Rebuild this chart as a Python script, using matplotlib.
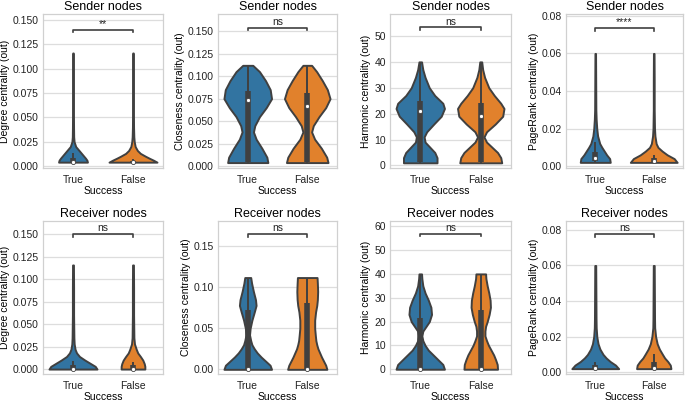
import numpy as np
import matplotlib
matplotlib.use("Agg")
import matplotlib.pyplot as plt
from matplotlib.ticker import FormatStrFormatter, MultipleLocator

plt.rcParams["font.family"] = ["Liberation Sans", "DejaVu Sans"]

categories = ["True", "False"]
colors = ["#3274a1", "#e1812c"]
edge = "#404040"

# ---- sender nodes ----
# violin profiles: value levels + relative density (width) at each level
deg_snd_levels = [0.004, 0.006, 0.008, 0.010, 0.013, 0.016, 0.020, 0.025, 0.030, 0.040, 0.060, 0.080, 0.100, 0.116]
deg_snd_true = [53, 51, 46, 40, 31, 22, 10, 4, 2.5, 2, 1.5, 1.5, 1.5, 1]
deg_snd_false = [88, 75, 60, 46, 27, 16, 8, 4.5, 3, 2, 1.5, 1.5, 1.5, 1]
# box stats: whisker low, q1, median, q3, whisker high
deg_snd_true_box = [0.004, 0.004, 0.004, 0.008, 0.013]
deg_snd_false_box = [0.004, 0.004, 0.004, 0.005, 0.007]

clo_snd_levels = [0.004, 0.010, 0.020, 0.030, 0.038, 0.045, 0.055, 0.065, 0.075, 0.085, 0.095, 0.105, 0.112]
clo_snd_true = [60, 57, 42, 25, 17, 21, 35, 55, 71, 67, 53, 35, 15]
clo_snd_false = [62, 58, 42, 22, 13, 18, 35, 55, 68, 60, 45, 28, 13]
clo_snd_true_box = [0.004, 0.005, 0.074, 0.083, 0.112]
clo_snd_false_box = [0.004, 0.005, 0.0667, 0.081, 0.112]

har_snd_levels = [1, 3, 5, 7, 9, 11, 13, 16, 19, 22, 24, 27, 30, 34, 37, 40]
har_snd_true = [52, 52, 45, 30, 15, 12, 20, 42, 65, 75, 70, 45, 28, 15, 8, 4]
har_snd_false = [65, 62, 52, 35, 18, 10, 18, 45, 68, 72, 62, 42, 25, 12, 6, 3]
har_snd_true_box = [1, 1.5, 21.1, 24.7, 40]
har_snd_false_box = [1, 1.5, 19.2, 24.0, 40]

pr_snd_levels = [0.002, 0.004, 0.006, 0.008, 0.010, 0.012, 0.016, 0.020, 0.025, 0.030, 0.045, 0.060]
pr_snd_true = [50, 48, 38, 30, 22, 15, 8, 5, 3, 2, 1.5, 1]
pr_snd_false = [78, 68, 45, 28, 14, 8, 4, 2.5, 2, 1.5, 1.5, 1]
pr_snd_true_box = [0.0022, 0.0028, 0.0044, 0.0075, 0.013]
pr_snd_false_box = [0.002, 0.0021, 0.0025, 0.0045, 0.006]

# ---- receiver nodes ----
deg_rcv_levels = [0.000, 0.003, 0.006, 0.010, 0.014, 0.018, 0.022, 0.028, 0.035, 0.060, 0.090, 0.116]
deg_rcv_true = [81, 75, 60, 40, 22, 12, 7, 4, 3, 2, 2, 1.5]
deg_rcv_false = [40, 40, 38, 33, 25, 16, 11, 5, 3, 2, 2, 1.5]
deg_rcv_true_box = [0, 0, 0, 0.004, 0.009]
deg_rcv_false_box = [0, 0, 0, 0.004, 0.008]

clo_rcv_levels = [0.000, 0.005, 0.010, 0.015, 0.020, 0.025, 0.030, 0.035, 0.042, 0.050, 0.060, 0.070, 0.078, 0.085, 0.095, 0.105, 0.112]
clo_rcv_true = [80, 75, 60, 45, 32, 22, 14, 10, 6, 8, 14, 22, 28, 26, 19, 13, 10]
clo_rcv_false = [66, 62, 55, 48, 42, 36, 32, 29, 27, 25, 25, 28, 32, 34, 35, 34, 33]
clo_rcv_true_box = [0, 0, 0, 0.072, 0.112]
clo_rcv_false_box = [0, 0, 0, 0.081, 0.112]

har_rcv_levels = [0, 2, 4, 6, 8, 10, 12, 14, 16, 18, 20, 23, 26, 29, 32, 35, 38, 40]
har_rcv_true = [75, 70, 55, 40, 25, 15, 8, 5, 8, 18, 28, 35, 33, 25, 15, 8, 5, 4]
har_rcv_false = [52, 51, 46, 40, 32, 24, 18, 13, 13, 15, 20, 26, 30, 29, 25, 20, 16, 15]
har_rcv_true_box = [0, 0, 0, 21.3, 40]
har_rcv_false_box = [0, 0, 0, 24.8, 40]

pr_rcv_levels = [0.002, 0.004, 0.006, 0.008, 0.010, 0.013, 0.016, 0.020, 0.025, 0.030, 0.045, 0.060]
pr_rcv_true = [75, 65, 48, 35, 25, 15, 9, 5, 3, 2.5, 2, 1.5]
pr_rcv_false = [55, 53, 45, 35, 28, 18, 11, 6, 3, 2.5, 2, 1.5]
pr_rcv_true_box = [0.002, 0.002, 0.0022, 0.004, 0.006]
pr_rcv_false_box = [0.002, 0.002, 0.0022, 0.006, 0.010]

ylabels = ["Degree centrality (out)", "Closeness centrality (out)",
           "Harmonic centrality (out)", "PageRank centrality (out)"]
row_titles = ["Sender nodes", "Receiver nodes"]
sig_snd = ["**", "ns", "ns", "****"]
sig_rcv = ["ns", "ns", "ns", "ns"]
bracket_snd = [0.140, 0.154, 53.3, 0.0735]
bracket_rcv = [0.1505, 0.1654, 56.9, 0.0778]

panels = [
    [(deg_snd_levels, deg_snd_true, deg_snd_false, deg_snd_true_box, deg_snd_false_box),
     (clo_snd_levels, clo_snd_true, clo_snd_false, clo_snd_true_box, clo_snd_false_box),
     (har_snd_levels, har_snd_true, har_snd_false, har_snd_true_box, har_snd_false_box),
     (pr_snd_levels, pr_snd_true, pr_snd_false, pr_snd_true_box, pr_snd_false_box)],
    [(deg_rcv_levels, deg_rcv_true, deg_rcv_false, deg_rcv_true_box, deg_rcv_false_box),
     (clo_rcv_levels, clo_rcv_true, clo_rcv_false, clo_rcv_true_box, clo_rcv_false_box),
     (har_rcv_levels, har_rcv_true, har_rcv_false, har_rcv_true_box, har_rcv_false_box),
     (pr_rcv_levels, pr_rcv_true, pr_rcv_false, pr_rcv_true_box, pr_rcv_false_box)],
]

# axis layout (pixels in a 685x401 canvas)
W, H = 685, 401
col_x = [(43, 163), (218, 337), (390, 511), (566, 683)]
row_y = [(14, 168), (221, 374)]
ylims = [[(-0.002, 0.156), (-0.002, 0.169), (-1, 58.5), (-0.001, 0.081)],
         [(-0.0055, 0.165), (-0.0057, 0.181), (-2, 62.2), (-0.001, 0.085)]]
ysteps = [[0.025, 0.025, 10, 0.02], [0.025, 0.05, 10, 0.02]]
yfmts = [["%.3f", "%.3f", "%d", "%.2f"], ["%.3f", "%.2f", "%d", "%.2f"]]

fig = plt.figure(figsize=(6.85, 4.01), dpi=100)

for r in range(2):
    for c in range(4):
        x0, x1 = col_x[c]
        y0, y1 = row_y[r]
        ax = fig.add_axes([x0 / W, 1 - y1 / H, (x1 - x0) / W, (y1 - y0) / H])
        levels, d_true, d_false, b_true, b_false = panels[r][c]
        levels = np.array(levels)
        dmax = max(max(d_true), max(d_false))
        for i, (dens, box) in enumerate([(d_true, b_true), (d_false, b_false)]):
            w = np.array(dens) / dmax * 0.4
            ax.fill_betweenx(levels, i - w, i + w, facecolor=colors[i],
                             edgecolor=edge, lw=1.4, zorder=2)
            lo, q1, med, q3, hi = box
            ax.vlines(i, lo, hi, color=edge, lw=1.4, zorder=3)
            ax.vlines(i, q1, q3, color=edge, lw=4, zorder=3)
            ax.scatter([i], [med], s=9, c="white", edgecolors=edge,
                       linewidths=0.6, zorder=4)

        ylo, yhi = ylims[r][c]
        ax.set_ylim(ylo, yhi)
        ax.set_xlim(-0.5, 1.5)
        ax.yaxis.set_major_locator(MultipleLocator(ysteps[r][c]))
        ax.yaxis.set_major_formatter(FormatStrFormatter(yfmts[r][c]))
        ax.set_xticks([0, 1])
        ax.set_xticklabels(categories)

        # significance bracket
        yb = (bracket_snd if r == 0 else bracket_rcv)[c]
        tick = (yhi - ylo) * 0.018
        ax.plot([0, 0, 1, 1], [yb - tick, yb, yb, yb - tick], color=edge, lw=1.2)
        ax.text(0.5, yb + (yhi - ylo) * 0.005, (sig_snd if r == 0 else sig_rcv)[c],
                ha="center", va="bottom", fontsize=7.5, color="#222222")

        ax.set_title(row_titles[r], fontsize=9, pad=3)
        ax.set_ylabel(ylabels[c], fontsize=7.5, labelpad=2)
        ax.set_xlabel("Success", fontsize=7.5, labelpad=1)
        ax.tick_params(axis="y", length=0, labelsize=7.5, pad=3, colors="#222222")
        ax.tick_params(axis="x", length=0, labelsize=7.5, pad=5, colors="#222222")
        ax.grid(axis="y", color="#dddddd", lw=0.9, zorder=0)
        ax.set_axisbelow(True)
        for s in ax.spines.values():
            s.set_color("#d0d0d0")
            s.set_linewidth(0.9)

fig.savefig("out.png", dpi=100)
